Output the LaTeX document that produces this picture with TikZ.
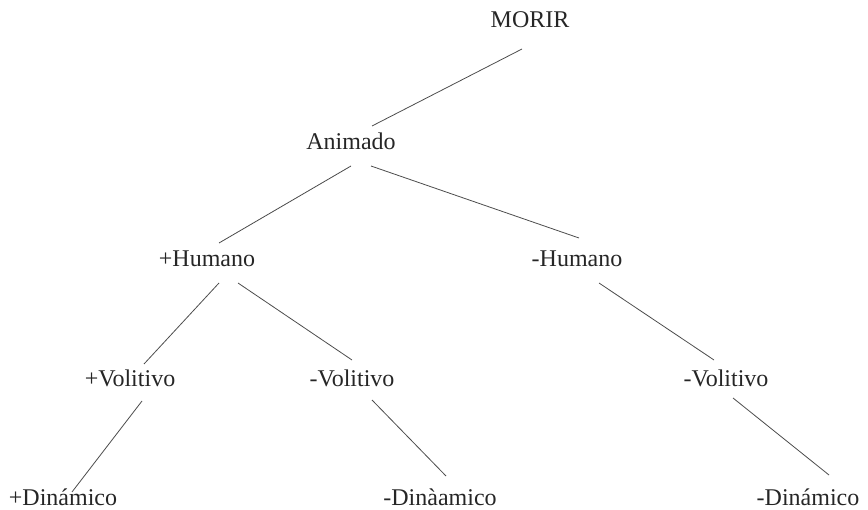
\documentclass[tikz,border=0pt]{standalone}
\usepackage{fontspec}
\setmainfont{Liberation Serif}
\begin{document}
\begin{tikzpicture}[x=1pt,y=-1pt,
  lbl/.style={anchor=base,inner sep=0pt,text=black!85,font=\fontsize{24}{28}\selectfont},
  edge/.style={draw=black!70,line width=0.8pt}]
\useasboundingbox (0,0) rectangle (868,510);
% nodes
\node[lbl] (morir) at (530,28) {MORIR};
\node[lbl] (anim) at (351,150) {Animado};
\node[lbl] (phum) at (207,267) {+Humano};
\node[lbl] (mhum) at (577,267) {-Humano};
\node[lbl] (pvol) at (130,387) {+Volitivo};
\node[lbl] (mvol) at (352,387) {-Volitivo};
\node[lbl] (mvol2) at (726,387) {-Volitivo};
\node[lbl] (pdin) at (63,505) {+Dinámico};
\node[lbl] (mdin) at (440,505) {-Dinàamico};
\node[lbl] (mdin2) at (808,505) {-Dinámico};
% free line ends
\coordinate (m1) at (522,49);   \coordinate (a0) at (372,126);
\coordinate (a1) at (351,166);  \coordinate (h1) at (219,243);
\coordinate (a2) at (371,166);  \coordinate (h2) at (579,238);
\coordinate (h3) at (219,283);  \coordinate (v1) at (144,364);
\coordinate (h4) at (238,283);  \coordinate (v2) at (352,360);
\coordinate (h5) at (599,283);  \coordinate (v3) at (714,360);
\coordinate (v4) at (142,401);  \coordinate (d1) at (72,492);
\coordinate (v5) at (372,400);  \coordinate (d2) at (446,476);
\coordinate (v6) at (733,398);  \coordinate (d3) at (829,475);
% connectors
\draw[edge] (m1) -- (a0);
\draw[edge] (a1) -- (h1);
\draw[edge] (a2) -- (h2);
\draw[edge] (h3) -- (v1);
\draw[edge] (h4) -- (v2);
\draw[edge] (h5) -- (v3);
\draw[edge] (v4) -- (d1);
\draw[edge] (v5) -- (d2);
\draw[edge] (v6) -- (d3);
\end{tikzpicture}
\end{document}
